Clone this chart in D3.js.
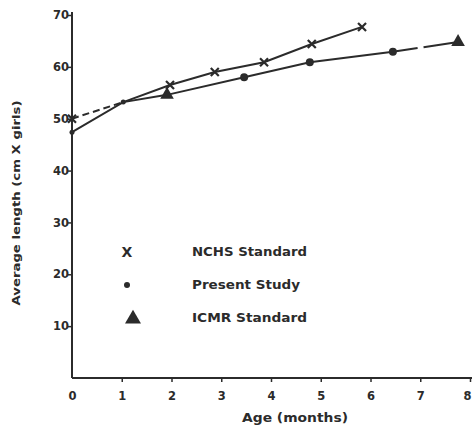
<!DOCTYPE html>
<html><head><meta charset="utf-8">
<script src="https://cdn.jsdelivr.net/npm/d3@7"></script>
<style>html,body{margin:0;padding:0;background:#fff;} svg{display:block;}</style>
</head><body><svg id="c" width="472" height="437"></svg>
<script>
const xTicks = [0,1,2,3,4,5,6,7,8];
const yTicks = [10,20,30,40,50,60,70];
const nchsAge = [0,1.03,1.97,2.87,3.86,4.82,5.83];
const nchsLen = [50.0,53.2,56.5,59.0,60.9,64.4,67.7];
const nchsMarker = ["x","none","x","x","x","x","x"];
const studyAge = [0,1.03,1.91,3.46,4.78,6.45,7.76];
const studyLen = [47.4,53.2,54.6,58.0,60.9,62.9,64.8];
const studyMarker = ["dot","dot","tri","dot","dot","dot","tri"];
const legendLabels = ["NCHS Standard","Present Study","ICMR Standard"];
const legendMarkers = ["X","dot","tri"];
const xTitle = "Age (months)";
const yTitle = "Average length (cm X girls)";

const ink = "#2b2b2b";
const font = "'DejaVu Sans', sans-serif";
const svg = d3.select("#c");
const x = d3.scaleLinear().domain([0,8]).range([72,470]);
const y = d3.scaleLinear().domain([0,70]).range([378,15]);

// axes
const yAxis = d3.axisLeft(y).tickValues(yTicks).tickSize(4).tickFormat(d3.format("d"));
const gy = svg.append("g").attr("transform","translate(72,0)").call(yAxis);
gy.select(".domain").remove();
gy.selectAll(".tick line").attr("stroke",ink).attr("stroke-width",1.5);
gy.selectAll(".tick text").attr("x",-3).attr("fill",ink)
  .style("font-family",font).style("font-weight","bold").style("font-size","11.5px");
svg.append("line").attr("x1",72).attr("x2",72).attr("y1",12).attr("y2",y(0))
  .attr("stroke",ink).attr("stroke-width",2);

const xAxis = d3.axisBottom(x).tickValues(xTicks).tickSize(4).tickFormat(d3.format("d"));
const gx = svg.append("g").attr("transform",`translate(0,${y(0)})`).call(xAxis);
gx.select(".domain").remove();
gx.selectAll(".tick line").attr("stroke",ink).attr("stroke-width",1.5)
  .filter(d=>d===0).remove();
gx.selectAll(".tick text").attr("y",14).attr("fill",ink)
  .style("font-family",font).style("font-weight","bold").style("font-size","11.5px");
gx.selectAll(".tick text").filter(d=>d===8).attr("dx",-3);
svg.append("line").attr("x1",72).attr("x2",472).attr("y1",y(0)).attr("y2",y(0))
  .attr("stroke",ink).attr("stroke-width",2);

// titles
svg.append("text").attr("x",295).attr("y",422).attr("text-anchor","middle")
  .attr("textLength",106).attr("lengthAdjust","spacingAndGlyphs")
  .attr("fill",ink).style("font-family",font).style("font-weight","bold").style("font-size","12px")
  .text(xTitle);
svg.append("text").attr("transform","translate(20,203) rotate(-90)").attr("text-anchor","middle")
  .attr("textLength",205).attr("lengthAdjust","spacingAndGlyphs")
  .attr("fill",ink).style("font-family",font).style("font-weight","bold").style("font-size","11px")
  .text(yTitle);

// lines
const line = d3.line().x(d=>x(d[0])).y(d=>y(d[1]));
const nchs = nchsAge.map((a,i)=>[a,nchsLen[i]]);
const study = studyAge.map((a,i)=>[a,studyLen[i]]);
svg.append("path").attr("d",line(nchs.slice(0,2))).attr("fill","none")
  .attr("stroke",ink).attr("stroke-width",2).attr("stroke-dasharray","7,4");
svg.append("path").attr("d",line(nchs.slice(1))).attr("fill","none")
  .attr("stroke",ink).attr("stroke-width",2);
svg.append("path").attr("d",line(study.slice(0,study.length-1))).attr("fill","none")
  .attr("stroke",ink).attr("stroke-width",2);
svg.append("path").attr("d",line(study.slice(study.length-2))).attr("fill","none")
  .attr("stroke",ink).attr("stroke-width",2).attr("stroke-dasharray","25,6,60");

// markers
function drawMarker(g,type,cx,cy,s){
  if(type==="x"){
    g.append("path").attr("d",`M${cx-s},${cy-s}L${cx+s},${cy+s}M${cx-s},${cy+s}L${cx+s},${cy-s}`)
      .attr("stroke",ink).attr("stroke-width",2.2);
  } else if(type==="dot"){
    g.append("circle").attr("cx",cx).attr("cy",cy).attr("r",s).attr("fill",ink);
  } else if(type==="tri"){
    g.append("path").attr("d",d3.symbol(d3.symbolTriangle, s*s*5)()).attr("transform",`translate(${cx},${cy})`)
      .attr("fill",ink);
  }
}
const mg = svg.append("g");
nchs.forEach((d,i)=>drawMarker(mg,nchsMarker[i],x(d[0]),y(d[1]),4));
study.forEach((d,i)=>drawMarker(mg,studyMarker[i],x(d[0]),y(d[1]),studyMarker[i]==="dot"?(i<2?2.5:4):4));

// legend
const legY = [252,285,318];
legendLabels.forEach((t,i)=>{
  if(legendMarkers[i]==="X"){
    svg.append("text").attr("x",127).attr("y",legY[i]).attr("dy","0.36em").attr("text-anchor","middle")
      .attr("fill",ink).style("font-family",font).style("font-weight","bold").style("font-size","14px").text("X");
  } else if(legendMarkers[i]==="dot"){
    svg.append("circle").attr("cx",127).attr("cy",legY[i]).attr("r",3).attr("fill",ink);
  } else {
    svg.append("path").attr("d",d3.symbol(d3.symbolTriangle,110)()).attr("transform",`translate(133,${legY[i]+1})`).attr("fill",ink);
  }
  svg.append("text").attr("x",192).attr("y",legY[i]).attr("dy","0.36em")
    .attr("textLength",i===1?108:115).attr("lengthAdjust","spacingAndGlyphs")
    .attr("fill",ink).style("font-family",font).style("font-weight","bold").style("font-size","12px").text(t);
});
</script></body></html>
